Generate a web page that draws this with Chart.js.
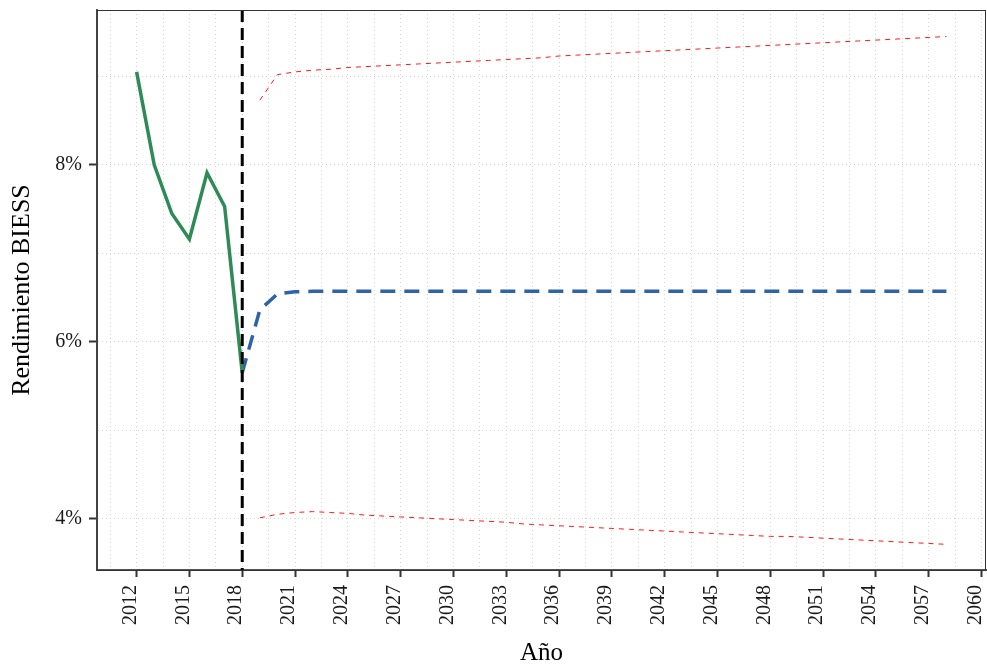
<!DOCTYPE html>
<html>
<head>
<meta charset="utf-8">
<script src="https://cdn.jsdelivr.net/npm/chart.js@4.4.0/dist/chart.umd.min.js"></script>
<style>
  html, body { margin: 0; padding: 0; background: #fff; }
  #wrap { width: 987px; height: 666px; }
</style>
</head>
<body>
<div id="wrap"><canvas id="rend"></canvas></div>
<script>
// observed yield 2012-2018
const histYears = [2012, 2013, 2014, 2015, 2016, 2017, 2018];
const histRate = [9.05, 8.00, 7.45, 7.16, 7.91, 7.53, 5.65];

// central projection
const projYears = [2018, 2019, 2020, 2021, 2022, 2023, 2024, 2025, 2026, 2027,
  2028, 2029, 2030, 2031, 2032, 2033, 2034, 2035, 2036, 2037, 2038, 2039, 2040,
  2041, 2042, 2043, 2044, 2045, 2046, 2047, 2048, 2049, 2050, 2051, 2052, 2053,
  2054, 2055, 2056, 2057, 2058];
const projRate = [5.65, 6.36, 6.54, 6.565, 6.57, 6.57, 6.57, 6.57, 6.57, 6.57,
  6.57, 6.57, 6.57, 6.57, 6.57, 6.57, 6.57, 6.57, 6.57, 6.57, 6.57, 6.57, 6.57,
  6.57, 6.57, 6.57, 6.57, 6.57, 6.57, 6.57, 6.57, 6.57, 6.57, 6.57, 6.57, 6.57,
  6.57, 6.57, 6.57, 6.57, 6.57];

// upper / lower bounds
const bandYears = [2019, 2020, 2021, 2022, 2023, 2024, 2025, 2026, 2027, 2028,
  2029, 2030, 2031, 2032, 2033, 2034, 2035, 2036, 2037, 2038, 2039, 2040, 2041,
  2042, 2043, 2044, 2045, 2046, 2047, 2048, 2049, 2050, 2051, 2052, 2053, 2054,
  2055, 2056, 2057, 2058];
const upperRate = [8.73, 9.02, 9.05, 9.07, 9.08, 9.10, 9.11, 9.12, 9.13, 9.14,
  9.15, 9.16, 9.17, 9.18, 9.19, 9.20, 9.21, 9.23, 9.24, 9.25, 9.26, 9.27, 9.28,
  9.29, 9.30, 9.31, 9.32, 9.33, 9.34, 9.35, 9.36, 9.37, 9.38, 9.39, 9.40, 9.41,
  9.42, 9.43, 9.44, 9.45];
const lowerRate = [4.01, 4.05, 4.07, 4.08, 4.07, 4.06, 4.04, 4.03, 4.02, 4.01,
  4.00, 3.99, 3.98, 3.97, 3.96, 3.94, 3.93, 3.92, 3.91, 3.90, 3.89, 3.88, 3.87,
  3.86, 3.85, 3.84, 3.83, 3.82, 3.81, 3.80, 3.80, 3.79, 3.78, 3.77, 3.76, 3.75,
  3.74, 3.73, 3.72, 3.71];

const xTickYears = [2012, 2015, 2018, 2021, 2024, 2027, 2030, 2033, 2036, 2039,
  2042, 2045, 2048, 2051, 2054, 2057, 2060];
const yTickVals = [4, 6, 8];
const cutYear = 2018;

const serif = "'Liberation Serif', 'DejaVu Serif', serif";

const pts = (xs, ys) => xs.map((x, i) => ({ x: x, y: ys[i] }));

// major + minor grid positions
const xGrid = [];
xTickYears.forEach(v => { xGrid.push(v - 1.5, v); });
const yGrid = [];
yTickVals.forEach(v => { yGrid.push(v, v + 1); });

const frame = {
  id: 'frame',
  afterDatasetsDraw(chart) {
    const { ctx, chartArea: a, scales } = chart;
    const xc = scales.x.getPixelForValue(cutYear);
    ctx.save();
    ctx.strokeStyle = '#000';
    ctx.lineWidth = 3;
    ctx.setLineDash([12, 6]);
    ctx.beginPath();
    ctx.moveTo(xc, a.top);
    ctx.lineTo(xc, a.bottom);
    ctx.stroke();
    ctx.setLineDash([]);
    ctx.strokeStyle = '#333';
    ctx.lineWidth = 1;
    ctx.strokeRect(a.left, a.top + 0.5, a.right - a.left - 0.5, a.bottom - a.top);
    ctx.restore();
  }
};

new Chart(document.getElementById('rend'), {
  type: 'line',
  data: {
    datasets: [
      {
        data: pts(histYears, histRate),
        borderColor: '#2e8b57',
        borderWidth: 3.5
      },
      {
        data: pts(projYears, projRate),
        borderColor: '#2f63a8',
        borderWidth: 3.5,
        borderDash: [15, 9]
      },
      {
        data: pts(bandYears, upperRate),
        borderColor: '#ff1a1a',
        borderWidth: 1,
        borderDash: [5, 5]
      },
      {
        data: pts(bandYears, lowerRate),
        borderColor: '#ff1a1a',
        borderWidth: 1,
        borderDash: [5, 5]
      }
    ]
  },
  options: {
    responsive: true,
    maintainAspectRatio: false,
    animation: false,
    layout: { padding: { top: 10, right: 1, left: 0, bottom: 0 } },
    elements: { point: { radius: 0 }, line: { tension: 0 } },
    plugins: { legend: { display: false }, tooltip: { enabled: false } },
    scales: {
      x: {
        type: 'linear',
        min: 2009.75,
        max: 2060.25,
        afterBuildTicks: s => { s.ticks = xGrid.map(v => ({ value: v })); },
        afterFit: s => { s.height = 96; s.paddingLeft = 0; s.paddingRight = 0; },
        ticks: {
          autoSkip: false,
          minRotation: 90,
          maxRotation: 90,
          padding: 8,
          labelOffset: -6,
          color: '#1a1a1a',
          font: { family: serif, size: 20 },
          callback: v => xTickYears.includes(v) ? String(v) : ''
        },
        grid: {
          color: '#d4d4d4',
          lineWidth: 1,
          tickLength: 7,
          tickWidth: 2,
          tickColor: c => (c.tick && xTickYears.includes(c.tick.value)) ? '#333' : 'rgba(0,0,0,0)'
        },
        border: { display: true, color: '#555', width: 2, dash: [1, 3] },
        title: {
          display: true,
          text: 'Año',
          color: '#000',
          font: { family: serif, size: 25, lineHeight: 1 },
          padding: { top: 0, bottom: 0 }
        }
      },
      y: {
        min: 3.42,
        max: 9.75,
        afterBuildTicks: s => { s.ticks = yGrid.map(v => ({ value: v })); },
        afterFit: s => { s.width = 97; s.paddingTop = 0; s.paddingBottom = 0; },
        ticks: {
          padding: 7,
          color: '#1a1a1a',
          font: { family: serif, size: 20 },
          callback: v => yTickVals.includes(v) ? v + '%' : ''
        },
        grid: {
          color: '#d4d4d4',
          lineWidth: 1,
          tickLength: 8,
          tickWidth: 2,
          tickColor: c => (c.tick && yTickVals.includes(c.tick.value)) ? '#333' : 'rgba(0,0,0,0)'
        },
        border: { display: true, color: '#555', width: 2, dash: [1, 3] },
        title: {
          display: true,
          text: 'Rendimiento BIESS',
          color: '#000',
          font: { family: serif, size: 26, lineHeight: 1 },
          padding: { top: 9, bottom: 0 }
        }
      }
    }
  },
  plugins: [frame]
});
</script>
</body>
</html>
